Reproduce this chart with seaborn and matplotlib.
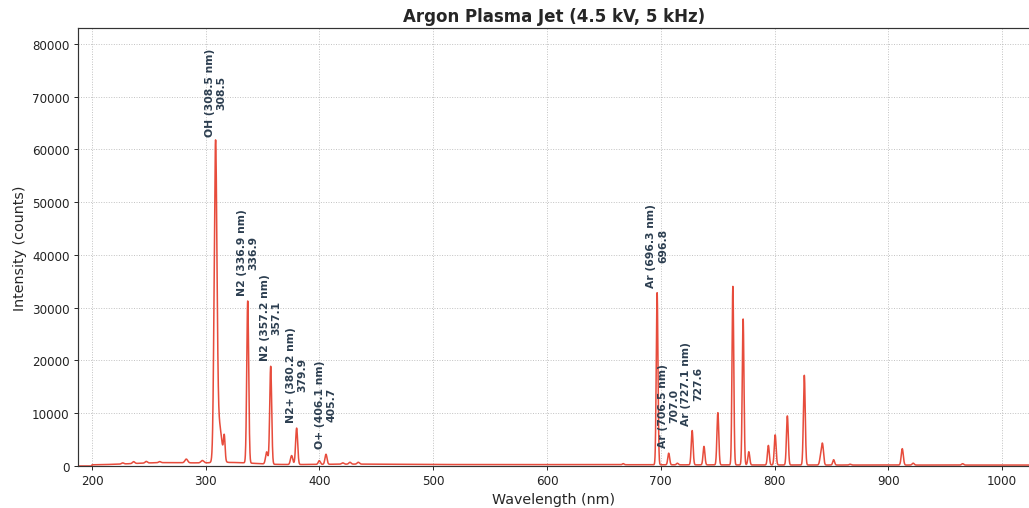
import matplotlib
matplotlib.use('Agg')
import numpy as np
import pandas as pd
import matplotlib.pyplot as plt
import seaborn as sns

# ─────────────────────────────────────────
# Emission lines
# ─────────────────────────────────────────
peak_wl = [227.0, 236.6, 247.7, 259.5, 282.9, 297.0,
           308.6, 311.5, 316.3, 336.9, 353.6, 357.1, 375.5, 379.9, 399.8, 405.7,
           420.4, 426.8, 434.1,
           667.0, 696.8, 707.0, 714.6, 727.6, 738.0, 750.2, 763.4, 772.4,
           777.4, 794.6, 800.6, 811.3, 826.2, 840.6, 842.2, 852.0, 866.4,
           912.3, 921.9, 965.4]
peak_height = [200, 350, 300, 200, 700, 450,
               57500, 7500, 4300, 30700, 2300, 18550, 1700, 6900, 700, 1900,
               250, 350, 350,
               200, 32600, 2200, 300, 6500, 3500, 9900, 33900, 27700,
               2500, 3700, 5700, 9300, 17000, 1500, 3800, 1000, 150,
               3100, 350, 250]
peak_sigma = [1.0, 1.0, 1.0, 1.0, 1.2, 1.2,
              1.2, 2.4, 0.7, 0.85, 1.0, 0.85, 1.0, 0.9, 0.9, 0.9,
              1.0, 1.0, 1.0,
              0.8, 0.75, 0.8, 0.8, 0.8, 0.8, 0.8, 0.75, 0.75,
              0.8, 0.8, 0.8, 0.8, 0.8, 0.9, 0.9, 0.8, 0.8,
              0.9, 0.9, 0.9]

# broad continuum under the lines
cont_wl = [265, 325, 430, 560]
cont_height = [450, 400, 120, 90]
cont_sigma = [30, 20, 40, 130]
base_level = 180

# labelled lines: reference value / detected value
label_ref = [308.5, 336.9, 357.2, 380.2, 406.1, 696.3, 706.5, 727.1]
label_species = ['OH', 'N2', 'N2', 'N2+', 'O+', 'Ar', 'Ar', 'Ar']
label_found = [308.5, 336.9, 357.1, 379.9, 405.7, 696.8, 707.0, 727.6]

# ─────────────────────────────────────────
# Build spectrum
# ─────────────────────────────────────────
wl = np.linspace(187.7, 1024.6, 8000)


def spectrum_at(x):
    x = np.asarray(x, dtype=float)
    y = np.where(x >= 200, base_level, 0.0)
    for c, h, s in zip(cont_wl, cont_height, cont_sigma):
        y = y + np.where(x >= 200, h * np.exp(-0.5 * ((x - c) / s) ** 2), 0.0)
    for c, h, s in zip(peak_wl, peak_height, peak_sigma):
        y = y + h * np.exp(-0.5 * ((x - c) / s) ** 2)
    return y


df = pd.DataFrame({'wavelength': wl, 'intensity': spectrum_at(wl)})

# ─────────────────────────────────────────
# Plot
# ─────────────────────────────────────────
sns.set_theme(style="ticks")
plt.rcParams['font.family'] = ['DejaVu Sans']

fig = plt.figure(figsize=(12, 509 / 85.75), dpi=85.75)
ax = fig.add_axes([78 / 1029, 42 / 509, 952 / 1029, 438 / 509])

sns.lineplot(data=df, x='wavelength', y='intensity', color='#e74c3c',
             linewidth=1.3, estimator=None, ax=ax)

for sp, ref, found in zip(label_species, label_ref, label_found):
    y_peak = float(spectrum_at(found))
    ax.annotate(f"{sp} ({ref} nm)\n{found}", xy=(found, y_peak),
                xytext=(0, 5), textcoords='offset points',
                rotation=90, ha='center', va='bottom', multialignment='center',
                fontsize=9, fontweight='bold', color='#2c3e50')

ax.set_xlim(187.7, 1024.6)
ax.set_ylim(0, 83000)
ax.set_xticks([200, 300, 400, 500, 600, 700, 800, 900, 1000])
ax.set_yticks(range(0, 80001, 10000))
ax.grid(True, linestyle=':', color='#b0b0b0', alpha=0.8, linewidth=0.8)
ax.tick_params(labelsize=10, length=3.5, width=0.8, colors='#222222')
for s in ax.spines.values():
    s.set_color('#333333')
    s.set_linewidth(1.0)

ax.set_title("Argon Plasma Jet (4.5 kV, 5 kHz)", fontsize=14, fontweight='bold')
ax.set_xlabel("Wavelength (nm)", fontsize=12)
ax.set_ylabel("Intensity (counts)", fontsize=12)

fig.savefig("out.png", dpi=85.75)
print("saved out.png")
